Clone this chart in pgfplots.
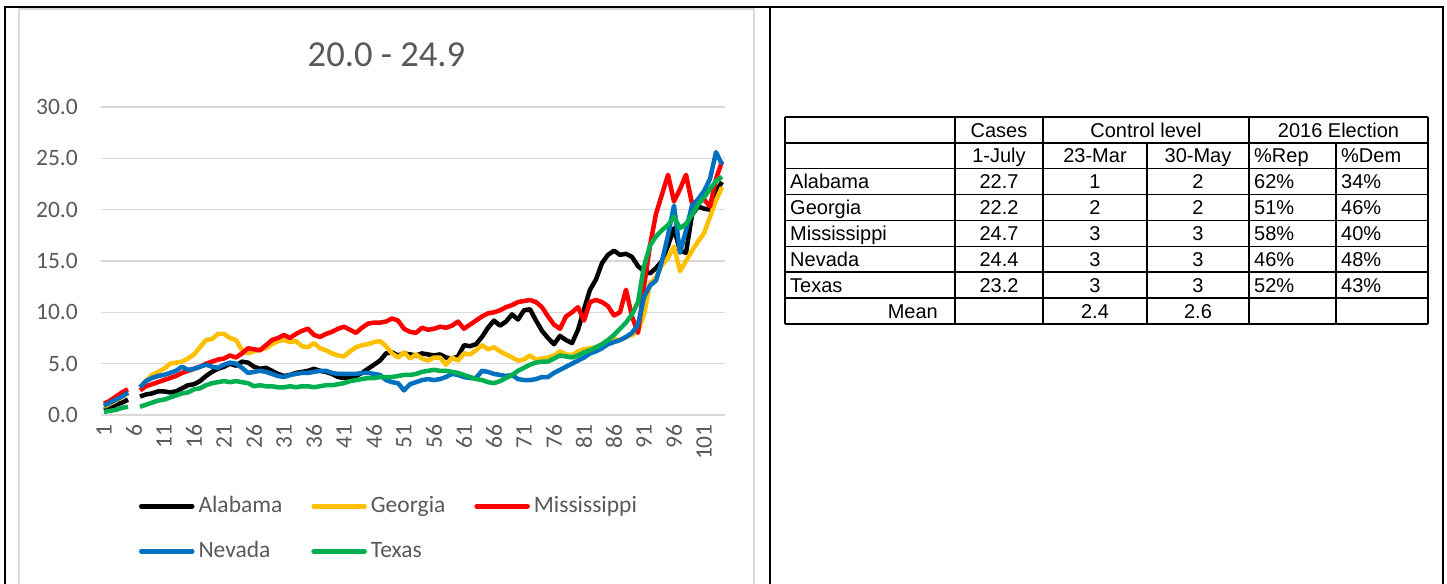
\documentclass[border=0pt]{standalone}
\usepackage{pgfplots}
\usepackage{pgfplotstable}
\pgfplotsset{compat=1.18}
\usepackage{fontspec}
\setmainfont{Carlito}
\newfontfamily\tabfont{Liberation Sans}

\definecolor{txt}{HTML}{595959}
\definecolor{gridc}{HTML}{D9D9D9}
\definecolor{cAla}{HTML}{000000}
\definecolor{cGeo}{HTML}{FFC000}
\definecolor{cMis}{HTML}{FF0000}
\definecolor{cNev}{HTML}{0070C0}
\definecolor{cTex}{HTML}{00B050}

% day, Alabama, Georgia, Mississippi, Nevada, Texas
\pgfplotstableread{
x   ala   geo   mis   nev   tex
1   0.5   0.8   1.1   0.9   0.3
2   0.7   1.1   1.4   1.2   0.4
3   1.0   1.4   1.8   1.5   0.5
4   1.2   1.8   2.2   1.8   0.7
5   1.5   2.1   2.5   2.2   0.8
6   nan   nan   nan   nan   nan
7   1.8   2.7   2.4   2.7   0.8
8   2.0   3.3   2.8   3.3   1.0
9   2.1   3.9   3.0   3.6   1.2
10  2.3   4.2   3.2   3.8   1.4
11  2.3   4.5   3.4   3.9   1.5
12  2.2   5.0   3.6   4.1   1.7
13  2.3   5.1   3.8   4.3   1.9
14  2.6   5.2   4.1   4.7   2.1
15  2.9   5.5   4.3   4.4   2.2
16  3.0   5.9   4.5   4.5   2.5
17  3.3   6.6   4.7   4.7   2.6
18  3.8   7.3   5.0   4.9   2.9
19  4.2   7.4   5.2   4.7   3.1
20  4.5   7.9   5.4   4.6   3.2
21  4.7   7.9   5.5   4.9   3.3
22  5.0   7.5   5.8   5.1   3.2
23  4.8   7.3   5.6   5.0   3.3
24  5.2   6.3   6.0   4.6   3.2
25  5.1   6.0   6.5   4.1   3.1
26  4.7   6.2   6.4   4.2   2.8
27  4.5   6.4   6.3   4.3   2.9
28  4.6   6.5   6.8   4.2   2.8
29  4.3   6.9   7.3   4.0   2.8
30  4.0   7.2   7.5   3.8   2.7
31  3.8   7.3   7.8   3.7   2.7
32  3.9   7.1   7.5   3.9   2.8
33  4.1   7.2   7.9   4.0   2.7
34  4.2   6.7   8.2   4.1   2.8
35  4.3   6.6   8.4   4.1   2.8
36  4.5   7.0   7.8   4.2   2.7
37  4.3   6.5   7.6   4.3   2.8
38  4.2   6.3   7.9   4.3   2.9
39  4.0   6.0   8.1   4.1   2.9
40  3.7   5.8   8.4   4.0   3.0
41  3.6   5.7   8.6   4.0   3.1
42  3.7   6.2   8.3   4.0   3.3
43  3.8   6.6   8.0   4.0   3.4
44  4.1   6.8   8.5   4.1   3.5
45  4.5   6.9   8.9   4.1   3.6
46  4.9   7.1   9.0   4.0   3.6
47  5.3   7.2   9.0   3.9   3.7
48  6.0   6.7   9.1   3.4   3.7
49  6.1   6.0   9.4   3.2   3.7
50  5.8   5.6   9.2   3.1   3.8
51  6.0   6.1   8.4   2.4   3.9
52  5.9   5.5   8.1   3.0   3.9
53  5.8   5.9   8.0   3.2   4.0
54  6.0   5.5   8.5   3.4   4.2
55  5.9   5.3   8.3   3.5   4.3
56  5.8   5.6   8.4   3.4   4.4
57  5.9   5.6   8.6   3.5   4.3
58  5.6   4.9   8.5   3.7   4.3
59  5.5   5.6   8.7   4.0   4.2
60  5.7   5.3   9.1   3.9   4.1
61  6.8   6.0   8.4   3.7   3.9
62  6.7   5.9   8.8   3.6   3.7
63  6.9   6.3   9.2   3.6   3.5
64  7.6   6.8   9.6   4.3   3.4
65  8.5   6.4   9.9   4.2   3.2
66  9.2   6.6  10.0   4.0   3.1
67  8.7   6.2  10.2   3.9   3.3
68  9.1   5.9  10.5   3.8   3.6
69  9.8   5.6  10.7   3.9   3.9
70  9.3   5.3  11.0   3.5   4.3
71 10.2   5.4  11.1   3.4   4.6
72 10.3   5.8  11.2   3.4   4.9
73  9.2   5.4  11.0   3.5   5.1
74  8.2   5.5  10.5   3.7   5.2
75  7.5   5.6   9.6   3.7   5.2
76  6.9   5.8   8.8   4.1   5.5
77  7.7   6.2   8.4   4.4   5.8
78  7.3   5.9   9.6   4.7   5.7
79  7.0   5.8  10.0   5.0   5.6
80  8.3   6.2  10.5   5.3   5.8
81 10.3   6.4   9.2   5.6   6.1
82 12.2   6.5  11.0   6.0   6.3
83 13.2   6.6  11.2   6.2   6.6
84 14.8   6.9  11.0   6.5   6.9
85 15.6   7.3  10.6   6.9   7.3
86 16.0   7.4   9.7   7.1   7.8
87 15.6   7.3  10.0   7.3   8.4
88 15.7   7.6  12.2   7.6   9.0
89 15.4   7.8   9.6   8.0   9.8
90 14.5   8.2   8.0   8.8  11.0
91 14.0   9.8  12.5  11.5  14.5
92 13.8  12.8  16.5  12.6  16.5
93 14.3  13.4  19.6  13.1  17.4
94 15.0  14.6  21.5  15.0  18.0
95 16.5  15.3  23.4  17.5  18.5
96 18.2  16.4  20.8  20.4  19.3
97 16.0  14.0  22.0  15.8  18.2
98 15.8  15.0  23.4  18.0  18.6
99 19.5  16.0  20.6  20.4  19.5
100 20.3 16.9  20.8  21.0  20.5
101 20.1 17.7  21.0  21.8  21.2
102 20.0 19.3  20.3  23.0  22.0
103 21.8 20.9  23.0  25.6  22.8
104 22.7 22.2  24.7  24.4  23.2
}\datatable

\begin{document}
\begin{tikzpicture}
\fill[white] (0,0) rectangle (1447bp,584bp);
\useasboundingbox (0,0) rectangle (1447bp,584bp);

% outer cell borders of the page table
\draw[line width=2.5bp] (5bp,-5bp) -- (5bp,577bp) -- (1443bp,577bp) -- (1443bp,-5bp);
\draw[line width=2.5bp] (770bp,-5bp) -- (770bp,577bp);

% chart area
\draw[gridc, fill=white, line width=1.5bp] (19bp,-5bp) rectangle (754bp,575bp);

\node[text=txt, font=\fontsize{36.6bp}{44bp}\selectfont] at (386.5bp,529bp) {20.0 - 24.9};

\begin{axis}[
    at={(101bp,169bp)}, anchor=south west,
    width=624bp, height=308bp, scale only axis,
    xmin=0.5, xmax=104.5, ymin=0, ymax=30,
    axis x line*=bottom, axis y line*=left,
    axis line style={draw=none},
    major tick length=0pt,
    ymajorgrids, grid style={gridc, line width=1.4bp},
    ytick={0,5,...,30},
    xtick={1,6,...,101},
    /pgf/number format/assume math mode=true,
    yticklabel style={/pgf/number format/.cd, fixed, fixed zerofill, precision=1},
    tick label style={text=txt, font=\fontsize{23.5bp}{28bp}\selectfont, inner sep=0pt},
    yticklabel shift=23bp,
    xticklabel style={rotate=90, anchor=east},
    xticklabel shift=9bp,
    unbounded coords=jump,
    every axis plot/.append style={line width=4.5bp, line join=round},
    legend columns=3,
    legend style={at={(0.0606,-0.26)}, anchor=north west, draw=none, fill=none,
        inner sep=0pt, text=txt, font=\fontsize{23.5bp}{28bp}\selectfont,
        nodes={inner sep=0pt, text height=17bp, text depth=5bp},
        row sep=23bp,
        /tikz/every even column/.append style={column sep=29bp}},
    legend cell align=left,
    legend image code/.code={\draw[#1, line cap=round] (0bp,0bp) -- (51bp,0bp); \path (55bp,0bp);},
]
\addplot[cAla] table[x=x, y=ala] {\datatable};
\addlegendentry{Alabama}
\addplot[cGeo] table[x=x, y=geo] {\datatable};
\addlegendentry{Georgia}
\addplot[cMis] table[x=x, y=mis] {\datatable};
\addlegendentry{Mississippi}
\addplot[cNev] table[x=x, y=nev] {\datatable};
\addlegendentry{Nevada}
\addplot[cTex] table[x=x, y=tex] {\datatable};
\addlegendentry{Texas}
\end{axis}

% table on the right
\begin{scope}[line width=1.5bp]
\foreach \yy in {467,441.1,415.25,389.4,363.5,337.6,311.75,285.9,260}
  \draw (785bp,\yy bp) -- (1428bp,\yy bp);
\foreach \xx in {785,955,1043,1249,1428}
  \draw (\xx bp,467bp) -- (\xx bp,260bp);
\foreach \xx in {1147,1336}
  \draw (\xx bp,441.1bp) -- (\xx bp,260bp);
\end{scope}
\tikzset{tc/.style={font={\tabfont\fontsize{20bp}{24bp}\selectfont}, inner sep=0pt, text height=14.3bp, text depth=0pt}}
% header rows
\node[tc] at (999bp,454.1bp) {Cases};
\node[tc] at (1146bp,454.1bp) {Control level};
\node[tc] at (1338.5bp,454.1bp) {2016 Election};
\node[tc] at (999bp,428.2bp) {1-July};
\node[tc] at (1095bp,428.2bp) {23-Mar};
\node[tc] at (1198bp,428.2bp) {30-May};
\node[tc, anchor=west] at (1254bp,428.2bp) {\%Rep};
\node[tc, anchor=west] at (1341bp,428.2bp) {\%Dem};
% body rows
\foreach \yy/\st/\ca/\ma/\my/\re/\de in {
    402.3/Alabama/22.7/1/2/62/34,
    376.4/Georgia/22.2/2/2/51/46,
    350.6/Mississippi/24.7/3/3/58/40,
    324.7/Nevada/24.4/3/3/46/48,
    298.8/Texas/23.2/3/3/52/43}{
  \node[tc, anchor=west] at (790bp,\yy bp) {\st};
  \node[tc] at (999bp,\yy bp) {\ca};
  \node[tc] at (1095bp,\yy bp) {\ma};
  \node[tc] at (1198bp,\yy bp) {\my};
  \node[tc, anchor=west] at (1254bp,\yy bp) {\re\%};
  \node[tc, anchor=west] at (1341bp,\yy bp) {\de\%};
}
\node[tc, anchor=east] at (938bp,272.9bp) {Mean};
\node[tc] at (1095bp,272.9bp) {2.4};
\node[tc] at (1198bp,272.9bp) {2.6};
\end{tikzpicture}
\end{document}
